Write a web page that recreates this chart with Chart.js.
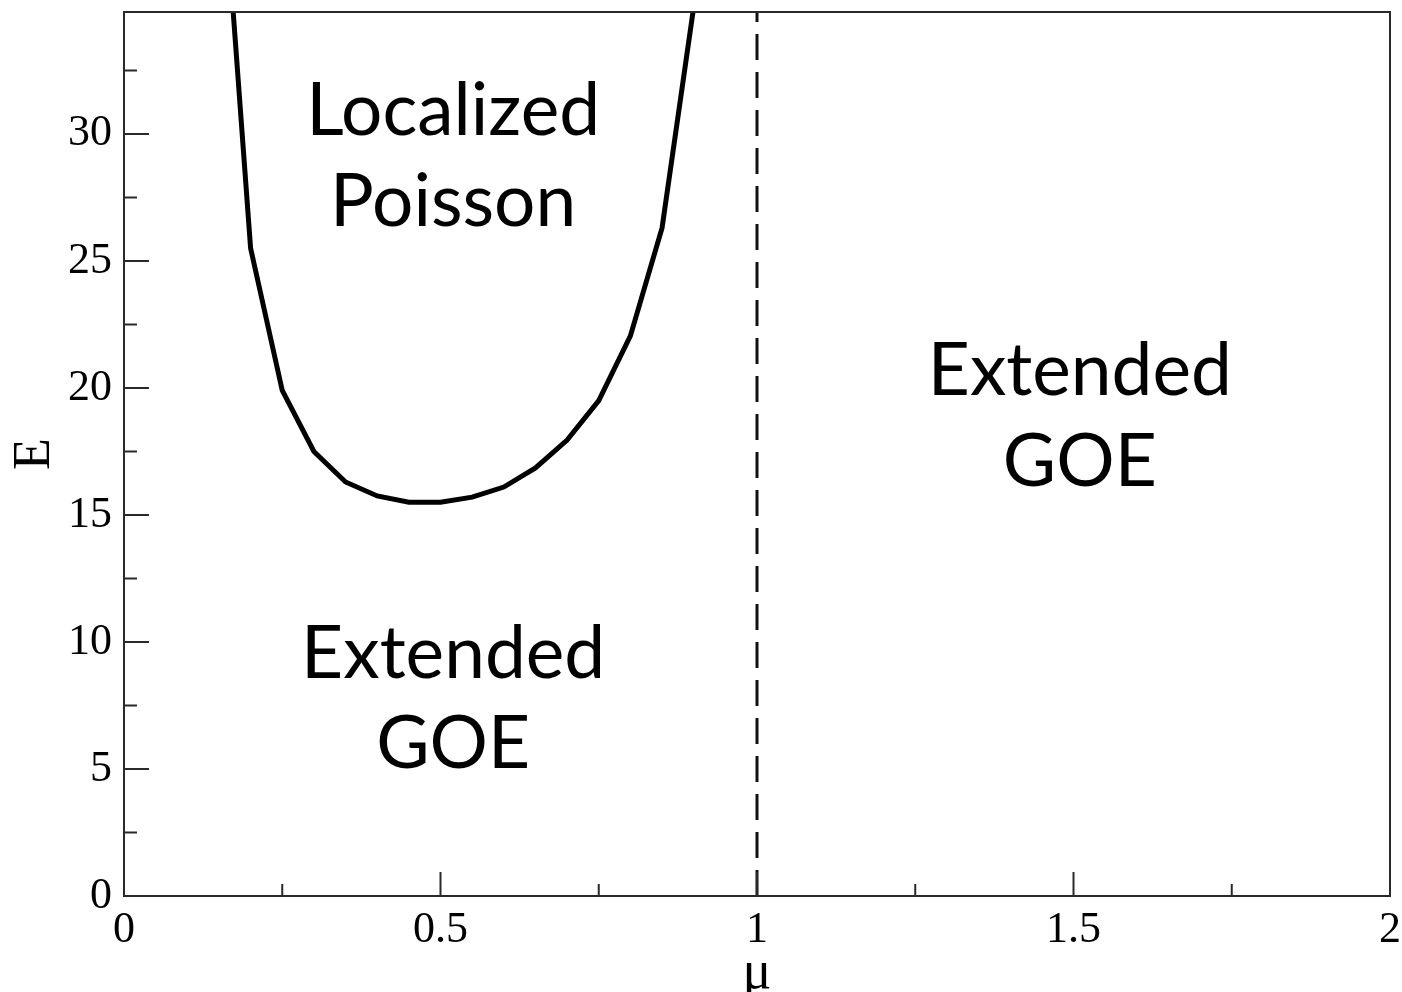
<!DOCTYPE html>
<html>
<head>
<meta charset="utf-8">
<title>Phase diagram E vs μ</title>
<script src="https://cdn.jsdelivr.net/npm/chart.js@4.4.0/dist/chart.umd.min.js"></script>
<style>
  html, body { margin: 0; padding: 0; background: #fff; }
  #wrap { width: 1402px; height: 992px; position: relative; }
</style>
</head>
<body>
<div id="wrap"><canvas id="phase" width="1402" height="992"></canvas></div>
<script>
// Mobility-edge boundary between the localized and extended phases
const muBoundary = [0.15, 0.20, 0.25, 0.30, 0.35, 0.40, 0.45, 0.50, 0.55, 0.60, 0.65, 0.70, 0.75, 0.80, 0.85, 0.90];
const eBoundary  = [42.4, 25.5, 19.9, 17.5, 16.3, 15.75, 15.5, 15.5, 15.7, 16.1, 16.85, 17.95, 19.5, 22.05, 26.3, 35.0];

// Critical line μ = 1
const muCritical = [1, 1];
const eCritical  = [0, 34.8];

// Axis ranges and ticks
const muRange = [0, 2];
const eRange  = [0, 34.8];
const muMajorTicks = [0, 0.5, 1, 1.5, 2];
const muMinorTicks = [0.25, 0.75, 1.25, 1.75];
const eMajorTicks  = [0, 5, 10, 15, 20, 25, 30];
const eMinorTicks  = [2.5, 7.5, 12.5, 17.5, 22.5, 27.5, 32.5];

// Region names
const regionLocalized = ['Localized', 'Poisson'];
const regionExtendedLeft = ['Extended', 'GOE'];
const regionExtendedRight = ['Extended', 'GOE'];

const serif = '"Liberation Serif", "Times New Roman", Times, serif';
const sans = 'Lato, "Open Sans", sans-serif';

// Frame, inward tick marks and region names
const decorations = {
  id: 'decorations',
  afterDatasetsDraw(chart) {
    const { ctx, chartArea: a, scales: { x, y } } = chart;
    ctx.save();
    ctx.strokeStyle = '#2a2a2a';
    ctx.lineWidth = 2;
    ctx.strokeRect(a.left, a.top, a.right - a.left, a.bottom - a.top);

    ctx.beginPath();
    muMajorTicks.forEach(v => { const px = x.getPixelForValue(v); ctx.moveTo(px, a.bottom); ctx.lineTo(px, a.bottom - 24); });
    muMinorTicks.forEach(v => { const px = x.getPixelForValue(v); ctx.moveTo(px, a.bottom); ctx.lineTo(px, a.bottom - 12); });
    eMajorTicks.forEach(v => { const py = y.getPixelForValue(v); ctx.moveTo(a.left, py); ctx.lineTo(a.left + 25, py); });
    eMinorTicks.forEach(v => { const py = y.getPixelForValue(v); ctx.moveTo(a.left, py); ctx.lineTo(a.left + 13, py); });
    ctx.stroke();

    ctx.fillStyle = '#000';
    ctx.font = '73px ' + sans;
    ctx.textAlign = 'center';
    ctx.textBaseline = 'alphabetic';
    const put = (lines, mu, e1, e2) => {
      const cx = x.getPixelForValue(mu);
      ctx.fillText(lines[0], cx, y.getPixelForValue(e1));
      ctx.fillText(lines[1], cx, y.getPixelForValue(e2));
    };
    put(regionLocalized, 0.52, 29.96, 26.38);
    put(regionExtendedRight, 1.51, 19.72, 16.14);
    put(regionExtendedLeft, 0.52, 8.58, 5.04);
    ctx.restore();
  }
};

// Keep tick labels from pushing the plot edges inward
const noOverflowX = s => { s.height = 96; s.paddingLeft = 0; s.paddingRight = 0; };
const noOverflowY = s => { s.width = 124; s.paddingTop = 0; s.paddingBottom = 0; };

new Chart(document.getElementById('phase'), {
  type: 'scatter',
  data: {
    datasets: [
      {
        label: 'boundary',
        data: muBoundary.map((m, i) => ({ x: m, y: eBoundary[i] })),
        showLine: true,
        borderColor: '#000',
        borderWidth: 5,
        pointRadius: 0,
        tension: 0
      },
      {
        label: 'critical',
        data: muCritical.map((m, i) => ({ x: m, y: eCritical[i] })),
        showLine: true,
        borderColor: '#111',
        borderWidth: 3,
        borderDash: [26, 12],
        pointRadius: 0
      }
    ]
  },
  options: {
    responsive: false,
    animation: false,
    devicePixelRatio: 1,
    layout: { padding: { top: 12, right: 12, left: 0, bottom: 0 } },
    plugins: { legend: { display: false }, tooltip: { enabled: false } },
    scales: {
      x: {
        type: 'linear',
        min: muRange[0], max: muRange[1],
        afterFit: noOverflowX,
        grid: { display: true, drawOnChartArea: false, drawTicks: false },
        border: { display: false },
        ticks: {
          stepSize: 0.5,
          includeBounds: false,
          padding: 8,
          color: '#000',
          font: { family: serif, size: 44 },
          maxRotation: 0,
          callback: v => String(v)
        },
        title: { display: true, text: 'μ', color: '#000', font: { family: serif, size: 54 }, padding: { top: 0, bottom: -14 } }
      },
      y: {
        type: 'linear',
        min: eRange[0], max: eRange[1],
        afterFit: noOverflowY,
        grid: { display: true, drawOnChartArea: false, drawTicks: false },
        border: { display: false },
        ticks: {
          stepSize: 5,
          includeBounds: false,
          padding: 12,
          color: '#000',
          font: { family: serif, size: 44 },
          callback: v => String(v)
        },
        title: { display: true, text: 'E', color: '#000', font: { family: serif, size: 52 }, padding: { top: 4, bottom: 0 } }
      }
    }
  },
  plugins: [decorations]
});
</script>
</body>
</html>
